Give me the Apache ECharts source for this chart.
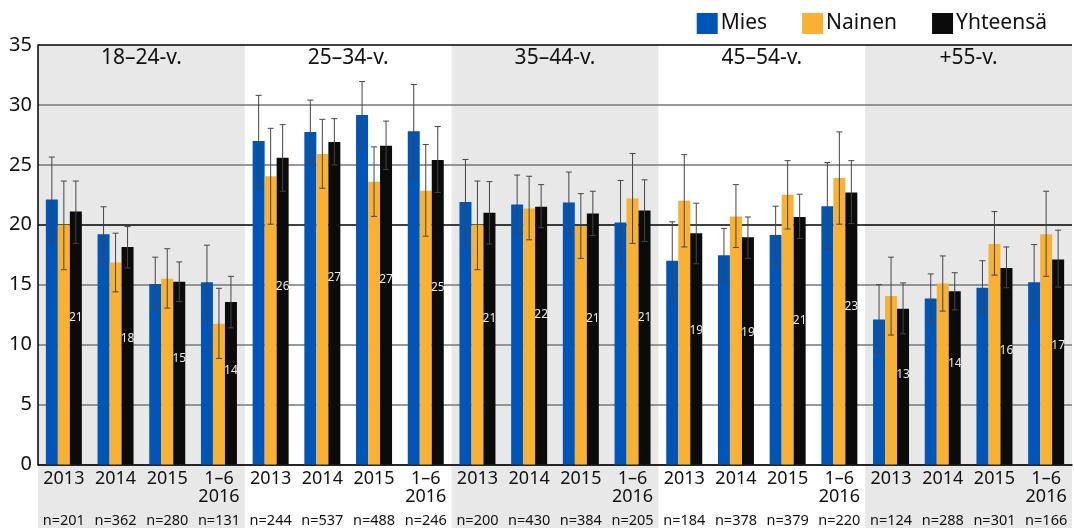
<!DOCTYPE html>
<html>
  <head>
    <meta charset="utf-8" />
    <title>Ikäryhmät 2013–2016</title>
    <script src="https://cdn.jsdelivr.net/npm/echarts@6/dist/echarts.min.js"></script>
    <style>
      * {
        padding: 0;
        margin: 0;
      }
      #chart-panel {
        width: 1074px;
        height: 528px;
      }
    </style>
  </head>
  <body>
    <div id="chart-panel"></div>
    <script type="text/javascript">
      var myChart = echarts.init(document.getElementById("chart-panel"));

      // ikäryhmät ja jaksot
      const groups = ["18–24-v.", "25–34-v.", "35–44-v.", "45–54-v.", "+55-v."];
      const periods = ["2013", "2014", "2015", "1–6\n2016"];
      const counts = [
        201, 362, 280, 131, 244, 537, 488, 246, 200, 430,
        384, 205, 184, 378, 379, 220, 124, 288, 301, 166,
      ];

      const mies = [
        22.1, 19.2, 15.05, 15.2, 27.0, 27.75, 29.15, 27.8, 21.9, 21.7,
        21.85, 20.2, 17.0, 17.45, 19.15, 21.55, 12.1, 13.85, 14.75, 15.2,
      ];
      const miesLow = [
        18.5, 16.85, 12.9, 12.05, 23.1, 25.1, 26.3, 23.9, 18.3, 19.25,
        19.2, 16.7, 13.7, 15.2, 16.7, 18.0, 9.3, 11.8, 12.6, 12.05,
      ];
      const miesHigh = [
        25.65, 21.5, 17.3, 18.3, 30.8, 30.4, 31.95, 31.7, 25.45, 24.15,
        24.4, 23.7, 20.25, 19.7, 21.55, 25.2, 15.0, 15.9, 17.0, 18.35,
      ];

      const nainen = [
        20.0, 16.85, 15.5, 11.75, 24.05, 25.9, 23.6, 22.85, 20.0, 21.35,
        19.9, 22.2, 22.0, 20.7, 22.5, 23.9, 14.05, 15.1, 18.4, 19.2,
      ];
      const nainenLow = [
        16.25, 14.4, 13.05, 8.85, 20.05, 23.05, 20.7, 19.05, 16.25, 18.75,
        17.2, 18.45, 18.15, 18.1, 19.65, 20.05, 10.8, 12.8, 15.8, 15.7,
      ];
      const nainenHigh = [
        23.65, 19.3, 18.0, 14.7, 28.05, 28.8, 26.5, 26.7, 23.65, 24.05,
        22.6, 25.95, 25.85, 23.35, 25.35, 27.75, 17.3, 17.4, 21.1, 22.8,
      ];

      const yhteensa = [
        21.1, 18.15, 15.25, 13.55, 25.6, 26.9, 26.6, 25.4, 21.0, 21.5,
        20.95, 21.2, 19.3, 18.95, 20.65, 22.7, 13.0, 14.45, 16.4, 17.1,
      ];
      const yhteensaLow = [
        18.45, 16.4, 13.6, 11.4, 22.8, 25.0, 24.6, 22.7, 18.4, 19.75,
        19.1, 18.6, 16.75, 17.2, 18.85, 20.1, 10.9, 12.9, 14.75, 14.8,
      ];
      const yhteensaHigh = [
        23.65, 19.85, 16.9, 15.7, 28.35, 28.85, 28.65, 28.2, 23.6, 23.35,
        22.8, 23.75, 21.8, 20.65, 22.55, 25.35, 15.15, 16.0, 18.15, 19.55,
      ];

      const FONT = "Noto Sans";
      const BAR_W = 12;
      const Y_MAX = 35;

      // kategoriat: ryhmä + jakso
      var categories = [];
      groups.forEach(function (g) {
        periods.forEach(function (p) {
          categories.push(g + "|" + p);
        });
      });

      // harmaat taustakaistat + otsikot
      function bandRender(params, api) {
        var idx = params.dataIndex;
        var start = api.coord([api.value(0), Y_MAX]);
        var w = api.size([1, 0])[0];
        var x0 = start[0] - w / 2;
        var width = w * periods.length;
        var children = [];
        if (idx % 2 === 0) {
          children.push({
            type: "rect",
            shape: { x: x0, y: start[1], width: width, height: api.getHeight() - start[1] },
            style: { fill: "#e8e8e8" },
          });
        }
        children.push({
          type: "text",
          style: {
            x: x0 + width / 2,
            y: start[1] + 13,
            text: groups[idx],
            fill: "#111",
            font: "21px '" + FONT + "'",
            align: "center",
            verticalAlign: "middle",
          },
        });
        return { type: "group", children: children };
      }

      function errorRender(offset) {
        return function (params, api) {
          var lo = api.coord([api.value(0), api.value(1)]);
          var hi = api.coord([api.value(0), api.value(2)]);
          var cx = lo[0] + offset;
          var st = { stroke: "#454545", lineWidth: 1 };
          return {
            type: "group",
            children: [
              { type: "line", shape: { x1: cx, y1: lo[1], x2: cx, y2: hi[1] }, style: st },
              { type: "line", shape: { x1: cx - 3, y1: hi[1], x2: cx + 3, y2: hi[1] }, style: st },
              { type: "line", shape: { x1: cx - 3, y1: lo[1], x2: cx + 3, y2: lo[1] }, style: st },
            ],
          };
        };
      }

      function errData(low, high) {
        return low.map(function (v, i) {
          return [i, v, high[i]];
        });
      }

      var option = {
        animation: false,
        textStyle: { fontFamily: FONT },
        legend: {
          data: ["Mies", "Nainen", "Yhteensä"],
          right: 22,
          top: 8,
          itemWidth: 21,
          itemHeight: 21,
          itemGap: 35,
          icon: "rect",
          textStyle: { fontSize: 21, color: "#111", fontFamily: FONT, padding: [0, 0, 0, -2] },
        },
        grid: { left: 38, right: 2, top: 45, bottom: 62 },
        xAxis: {
          type: "category",
          data: categories,
          axisTick: { show: false },
          axisLine: { lineStyle: { color: "#000", width: 1.5 } },
          axisLabel: {
            interval: 0,
            margin: 5,
            formatter: function (value, idx) {
              var p = periods[idx % periods.length].split("\n");
              return "{p|" + p[0] + "}\n{p|" + (p[1] || " ") + "}\n{n|n=" + counts[idx] + "}";
            },
            rich: {
              p: { fontSize: 18, lineHeight: 18, color: "#111", fontFamily: FONT },
              n: { fontSize: 14.5, lineHeight: 30, color: "#111", fontFamily: FONT },
            },
          },
        },
        yAxis: {
          type: "value",
          min: 0,
          max: Y_MAX,
          interval: 5,
          axisLine: { show: true, lineStyle: { color: "#000", width: 1.5 } },
          axisTick: { show: false },
          axisLabel: { fontSize: 20, color: "#111", margin: 6, fontFamily: FONT },
          splitLine: {
            lineStyle: {
              color: ["#777", "#777", "#777", "#777", "#000", "#777", "#777", "#000"],
              width: 1.5,
            },
          },
        },
        series: [
          {
            type: "custom",
            name: "bands",
            z: -1,
            silent: true,
            renderItem: bandRender,
            data: groups.map(function (g, i) {
              return [i * periods.length, 0];
            }),
            encode: { x: 0, y: 1 },
          },
          {
            name: "Mies",
            type: "bar",
            barWidth: BAR_W,
            barGap: "0%",
            itemStyle: { color: "#0055b8" },
            data: mies,
          },
          {
            name: "Nainen",
            type: "bar",
            barWidth: BAR_W,
            barGap: "0%",
            itemStyle: { color: "#f8b133" },
            data: nainen,
          },
          {
            name: "Yhteensä",
            type: "bar",
            barWidth: BAR_W,
            barGap: "0%",
            itemStyle: { color: "#0b0b0b" },
            label: {
              show: true,
              position: ["50%", "42%"],
              align: "center",
              verticalAlign: "middle",
              color: "#e6e6e6",
              fontSize: 12,
              fontFamily: FONT,
              formatter: function (p) {
                return Math.round(p.value);
              },
            },
            data: yhteensa,
          },
          {
            type: "custom",
            z: 5,
            silent: true,
            renderItem: errorRender(-BAR_W),
            data: errData(miesLow, miesHigh),
            encode: { x: 0, y: [1, 2] },
          },
          {
            type: "custom",
            z: 5,
            silent: true,
            renderItem: errorRender(0),
            data: errData(nainenLow, nainenHigh),
            encode: { x: 0, y: [1, 2] },
          },
          {
            type: "custom",
            z: 5,
            silent: true,
            renderItem: errorRender(BAR_W),
            data: errData(yhteensaLow, yhteensaHigh),
            encode: { x: 0, y: [1, 2] },
          },
        ],
      };

      if (option && typeof option === "object") {
        myChart.setOption(option);
      }
      window.addEventListener("resize", myChart.resize);
    </script>
  </body>
</html>
